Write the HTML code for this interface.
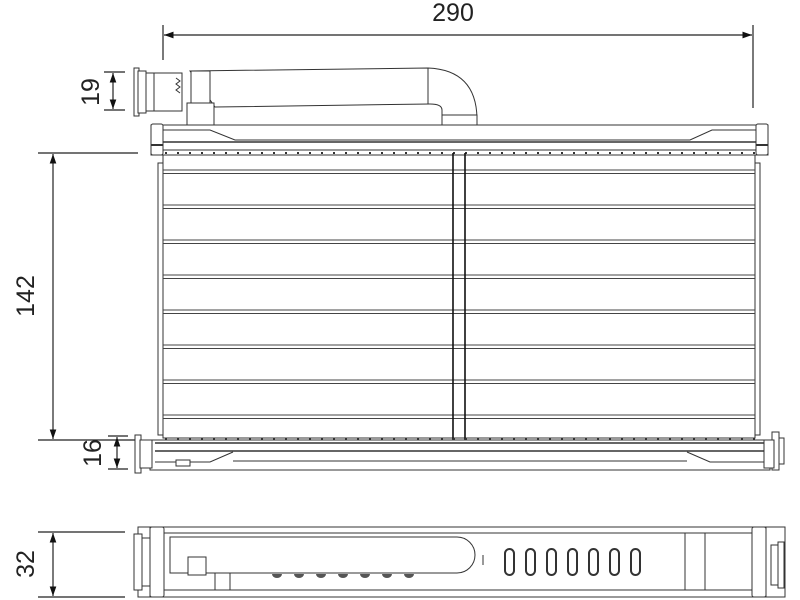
<!DOCTYPE html>
<html><head><meta charset="utf-8"><style>
html,body{margin:0;padding:0;background:#fff;}
svg{display:block;}
text{font-family:"Liberation Sans",Arial,sans-serif;font-size:25px;fill:#222;}
</style></head><body>
<svg width="800" height="600" viewBox="0 0 800 600" xmlns="http://www.w3.org/2000/svg">
<defs>
<marker id="a" viewBox="0 0 10 10" refX="10" refY="5" markerWidth="8" markerHeight="8" orient="auto-start-reverse"><path d="M0,1.5 L10,5 L0,8.5z" fill="#111"/></marker>
</defs>
<g stroke="#222" stroke-width="1.2" fill="none">
<line x1="163" y1="25" x2="163" y2="60"/>
<line x1="753" y1="25" x2="753" y2="108"/>
<line x1="164" y1="35" x2="752" y2="35" marker-start="url(#a)" marker-end="url(#a)"/>
<line x1="104" y1="72" x2="125" y2="72"/>
<line x1="104" y1="110" x2="125" y2="110"/>
<line x1="113" y1="73" x2="113" y2="109" marker-start="url(#a)" marker-end="url(#a)"/>
<line x1="38" y1="153" x2="138" y2="153"/>
<line x1="38" y1="440" x2="140" y2="440"/>
<line x1="53" y1="154" x2="53" y2="439" marker-start="url(#a)" marker-end="url(#a)"/>
<line x1="108" y1="436" x2="128" y2="436"/>
<line x1="108" y1="469" x2="128" y2="469"/>
<line x1="117" y1="437" x2="117" y2="468" marker-start="url(#a)" marker-end="url(#a)"/>
<line x1="38" y1="532" x2="125" y2="532"/>
<line x1="38" y1="597" x2="125" y2="597"/>
<line x1="53" y1="533" x2="53" y2="596" marker-start="url(#a)" marker-end="url(#a)"/>
</g>
<text x="453" y="21" text-anchor="middle">290</text>
<text transform="translate(99,92) rotate(-90)" text-anchor="middle">19</text>
<text transform="translate(34,296) rotate(-90)" text-anchor="middle">142</text>
<text transform="translate(101,453) rotate(-90)" text-anchor="middle">16</text>
<text transform="translate(34,564) rotate(-90)" text-anchor="middle">32</text>

<g stroke="#333" stroke-width="1" fill="#fff">
<path d="M190,71 L428,68 Q476,70 477,118 L477,130 L442,130 L442,110 Q442,104 430,104 L215,107 Z"/>
<line x1="428" y1="68" x2="428" y2="104"/>
<rect x="442" y="115" width="35" height="15"/>
<rect x="191" y="71" width="19" height="33"/>
<rect x="187" y="103" width="27" height="22"/>
<rect x="152" y="73" width="30" height="38"/>
<rect x="134" y="68" width="5" height="48"/>
<rect x="138" y="71" width="8" height="42"/>
<rect x="146" y="73" width="8" height="38"/>
<path d="M176,78 l4,3 -4,3 4,3 -4,3 4,3" fill="none"/>
<rect x="151" y="125" width="617" height="30"/>
<rect x="151" y="124" width="12" height="31" rx="2"/>
<rect x="756" y="124" width="12" height="31" rx="2"/>
<path d="M163,130 H210 L235,140 H690 L712,130 H756" fill="none"/>
<line x1="163" y1="142" x2="756" y2="142" stroke-width="1.6"/>
<line x1="163" y1="150" x2="756" y2="150"/>
<line x1="151" y1="145" x2="163" y2="145" stroke-width="2"/>
<line x1="756" y1="145" x2="768" y2="145" stroke-width="2"/>
<line x1="165" y1="153" x2="756" y2="153" stroke-dasharray="2,10" stroke-width="2"/>
<rect x="158" y="163" width="5" height="272"/>
<rect x="755" y="163" width="5" height="272"/>
<rect x="163" y="155" width="592" height="283" fill="none"/>
</g>
<g stroke="#444" stroke-width="1" fill="none">
<path d="M163,170H755M163,173.5H755M163,205H755M163,208.5H755M163,240H755M163,243.5H755M163,275H755M163,278.5H755M163,310H755M163,313.5H755M163,345H755M163,348.5H755M163,380H755M163,383.5H755M163,415H755M163,418.5H755"/>
</g>
<g stroke="#111" stroke-width="1.6">
<line x1="453" y1="153" x2="453" y2="440"/>
<line x1="465" y1="153" x2="465" y2="440"/>
</g>
<g stroke="#333" stroke-width="1" fill="#fff">
<rect x="150" y="440" width="620" height="30"/>
<line x1="165" y1="439" x2="760" y2="439" stroke-dasharray="2,10" stroke-width="2"/>
<line x1="155" y1="443" x2="768" y2="443" stroke-width="1.6"/>
<line x1="155" y1="451" x2="768" y2="451" stroke-width="1.6"/>
<path d="M155,462 H210 L233,452 M770,462 H710 L687,452" fill="none"/>
<line x1="233" y1="461" x2="687" y2="461"/>
<rect x="135" y="435" width="6" height="38"/>
<rect x="140" y="440" width="12" height="28"/>
<rect x="772" y="432" width="7" height="38"/>
<rect x="764" y="440" width="10" height="28"/>
<rect x="779" y="438" width="5" height="26"/>
<rect x="176" y="460" width="14" height="6"/>
<rect x="138" y="527" width="647" height="70" fill="none"/>
<rect x="150" y="527" width="616" height="70"/>
<rect x="150" y="527" width="14" height="70" rx="2"/>
<rect x="752" y="527" width="14" height="70" rx="2"/>
<line x1="164" y1="533" x2="752" y2="533"/>
<line x1="164" y1="590" x2="752" y2="590"/>
<rect x="134" y="534" width="8" height="56"/>
<rect x="142" y="538" width="8" height="48"/>
<rect x="771" y="545" width="7" height="40"/>
<rect x="778" y="542" width="6" height="46"/>
<path d="M170,537 H457 a18,18 0 0 1 0,36 H170 Z"/>
<rect x="188" y="557" width="18" height="18"/>
<line x1="215" y1="573" x2="215" y2="590"/>
<line x1="230" y1="573" x2="230" y2="590"/>
<line x1="685" y1="533" x2="685" y2="590"/>
<line x1="705" y1="533" x2="705" y2="590"/>
<line x1="483" y1="555" x2="483" y2="565"/>
</g>
<g fill="#fff" stroke="#333" stroke-width="2">
<rect x="505" y="549" width="9" height="26" rx="4.5"/>
<rect x="526" y="549" width="9" height="26" rx="4.5"/>
<rect x="547" y="549" width="9" height="26" rx="4.5"/>
<rect x="568" y="549" width="9" height="26" rx="4.5"/>
<rect x="589" y="549" width="9" height="26" rx="4.5"/>
<rect x="610" y="549" width="9" height="26" rx="4.5"/>
<rect x="631" y="549" width="9" height="26" rx="4.5"/>
</g>
<g fill="#555">
<path d="M272,574 a5,4 0 0 0 10,0z M294,574 a5,4 0 0 0 10,0z M316,574 a5,4 0 0 0 10,0z M338,574 a5,4 0 0 0 10,0z M360,574 a5,4 0 0 0 10,0z M382,574 a5,4 0 0 0 10,0z M404,574 a5,4 0 0 0 10,0z"/>
</g>
</svg>
</body></html>
